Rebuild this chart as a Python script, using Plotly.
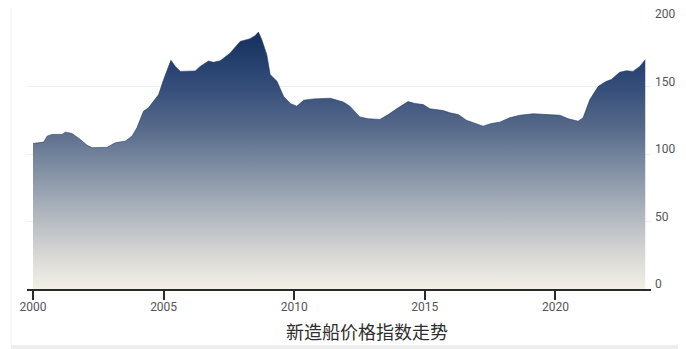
import plotly.graph_objects as go

# Data (decimal year, index value)
years = [2000.00, 2000.41, 2000.54, 2000.73, 2001.11, 2001.24, 2001.49, 2001.81, 2002.07, 2002.26,
         2002.83, 2003.15, 2003.53, 2003.79, 2003.98, 2004.23, 2004.42, 2004.62, 2004.81, 2005.00,
         2005.13, 2005.28, 2005.45, 2005.64, 2006.21, 2006.40, 2006.72, 2006.91, 2007.17, 2007.55,
         2007.93, 2008.31, 2008.50, 2008.63, 2008.76, 2008.95, 2009.08, 2009.34, 2009.59, 2009.85,
         2010.10, 2010.36, 2010.74, 2011.38, 2011.88, 2012.13, 2012.51, 2012.83, 2013.28, 2013.60,
         2013.98, 2014.36, 2014.62, 2014.94, 2015.19, 2015.70, 2015.96, 2016.28, 2016.59, 2016.92,
         2017.23, 2017.55, 2017.87, 2018.25, 2018.64, 2019.15, 2019.53, 2020.17, 2020.49, 2020.87,
         2021.06, 2021.32, 2021.64, 2021.95, 2022.14, 2022.46, 2022.72, 2022.97, 2023.23, 2023.44]
values = [107.8, 108.8, 113.2, 114.5, 114.5, 116.2, 115.2, 110.8, 106.4, 104.7,
          104.9, 108.3, 109.5, 113.2, 119.4, 131.7, 134.2, 139.1, 144.0, 155.1,
          161.2, 169.4, 164.9, 161.2, 161.5, 164.9, 168.9, 167.9, 169.1, 174.8,
          183.4, 185.4, 187.6, 190.3, 184.6, 173.6, 158.8, 153.8, 142.8, 137.4,
          135.4, 139.8, 140.8, 141.3, 138.5, 135.4, 127.5, 126.1, 125.6, 129.2,
          134.2, 138.8, 137.4, 136.6, 133.5, 132.2, 130.5, 129.2, 125.0, 122.6,
          120.6, 122.6, 123.6, 126.8, 128.7, 129.8, 129.2, 128.7, 126.1, 124.3,
          126.8, 140.3, 150.1, 153.8, 155.1, 160.5, 161.7, 161.2, 164.9, 169.9]

x_ticks = [2000, 2005, 2010, 2015, 2020]
x_tick_labels = ["2000", "2005", "2010", "2015", "2020"]
y_ticks = [0, 50, 100, 150, 200]
y_tick_labels = ["0", "50", "100", "150", "200"]
title_text = "新造船价格指数走势"

# The page body has an 8px margin, so the figure is drawn 8px in from the window edge
OFF = 8
W, H = 686 - OFF, 349 - OFF
ml, mt = 27 - OFF, 19 - OFF
mr = W - (651 - OFF)
mb = H - (289 - OFF)


def px_to_paper_x(px):
    return (px - OFF - ml) / (W - ml - mr)


def px_to_paper_y(py):
    return (H - mb - (py - OFF)) / (H - mt - mb)


fig = go.Figure()
fig.add_trace(go.Scatter(
    x=years, y=values, mode="lines", fill="tozeroy",
    line=dict(width=0.6, color="#22396a", shape="linear"),
    fillgradient=dict(
        type="vertical", start=0, stop=190,
        colorscale=[
            [0.0, "#f3f0e7"],
            [0.15, "#d4d4d2"],
            [0.32, "#a8b0ba"],
            [0.48, "#7d8ca1"],
            [0.63, "#56698a"],
            [0.79, "#344d79"],
            [1.0, "#15305f"],
        ],
    ),
    hoverinfo="skip", showlegend=False,
))

shapes = [
    dict(type="line", xref="paper", yref="paper",
         x0=px_to_paper_x(11), x1=px_to_paper_x(11), y0=px_to_paper_y(8), y1=px_to_paper_y(345),
         line=dict(color="#eeeeee", width=1), layer="below"),
    dict(type="rect", xref="paper", yref="paper",
         x0=px_to_paper_x(11), x1=px_to_paper_x(686), y0=px_to_paper_y(345), y1=px_to_paper_y(349),
         fillcolor="#eeeeee", line=dict(width=0), layer="below"),
]

fig.update_layout(
    width=W, height=H,
    margin=dict(l=ml, r=mr, t=mt, b=mb, pad=0, autoexpand=False),
    paper_bgcolor="white", plot_bgcolor="white",
    font=dict(family="Roboto, Noto Sans, sans-serif", color="#555555", size=12),
    shapes=shapes,
    xaxis=dict(
        range=[1999.77, 2023.66], tickvals=x_ticks, ticktext=x_tick_labels,
        showgrid=False, zeroline=False, automargin=False,
        showline=True, linecolor="#2a2a2a", linewidth=2,
        ticks="outside", ticklen=9, tickwidth=2, tickcolor="#2a2a2a",
        ticklabelstandoff=-3,
        tickfont=dict(size=12, color="#555555"),
        fixedrange=True,
    ),
    yaxis=dict(
        range=[0, 200], tickvals=y_ticks, ticktext=y_tick_labels,
        side="right", showgrid=True, gridcolor="#eeeeee", gridwidth=1,
        zeroline=False, showline=False, ticks="", automargin=False,
        ticklabelshift=-5, ticklabelstandoff=3,
        ticklabeloverflow="allow",
        tickfont=dict(size=12, color="#555555"),
        fixedrange=True,
    ),
    annotations=[dict(
        text=title_text, xref="paper", yref="paper",
        x=px_to_paper_x(367), y=px_to_paper_y(331),
        xanchor="center", yanchor="middle", showarrow=False,
        font=dict(family="Noto Sans CJK SC", size=18, color="#2e2e2e"),
    )],
)

fig.write_html("out.html")
